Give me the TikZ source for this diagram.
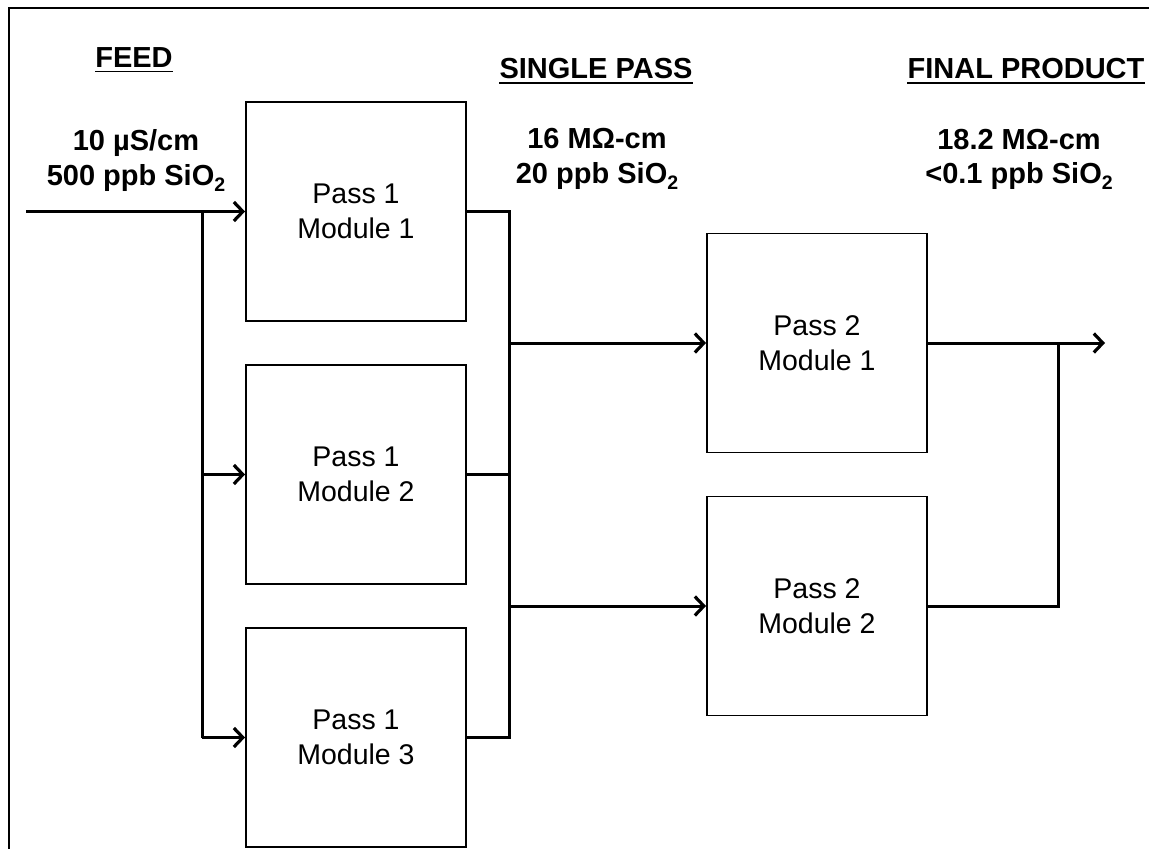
\documentclass[tikz,border=0pt]{standalone}
\usepackage{fontspec}
\setmainfont{Liberation Sans}
\usetikzlibrary{arrows.meta}
\newcommand\subtwo{\raisebox{-6pt}{\fontsize{19.5}{19.5}\selectfont 2}}
\begin{document}
\begin{tikzpicture}[x=1pt,y=-1pt,
  frameline/.style={line width=2.6pt},
  modbox/.style={draw,line width=1.9pt,minimum width=220pt,minimum height=219pt,
    inner sep=0pt,align=center,font=\fontsize{28.5}{35}\selectfont},
  pipe/.style={line width=3pt},
  flow/.style={line width=3pt,-{Straight Barb[length=9pt,width=19pt,line width=3.2pt]}},
  head/.style={inner sep=0pt,anchor=base,font=\fontsize{29}{35}\selectfont\bfseries},
  lbl/.style={inner sep=0pt,anchor=base,font=\fontsize{29}{35}\selectfont\bfseries},
  uline/.style={line width=1.8pt}]
\useasboundingbox (0,0) rectangle (1149,849);
% frame
\coordinate (fbl) at (9,849);
\coordinate (ftl) at (9,8);
\coordinate (ftr) at (1149,8);
\draw[frameline] (fbl) -- (ftl) -- (ftr);

% headings
\node[head] (feed) at (134,67) {FEED};
\node[head] (single) at (596,78) {SINGLE PASS};
\node[head] (final) at (1026,78) {FINAL PRODUCT};
\draw[uline] ([yshift=-4.5pt]feed.base west) -- ([yshift=-4.5pt]feed.base east);
\draw[uline] ([yshift=-5pt]single.base west) -- ([yshift=-5pt]single.base east);
\draw[uline] ([yshift=-5pt]final.base west) -- ([yshift=-5pt]final.base east);

% stream labels
\node[lbl] (f1) at (136,150) {10 µS/cm};
\node[lbl] (f2) at (136,185) {500 ppb SiO\subtwo};
\node[lbl] (s1) at (597,148) {16 MΩ-cm};
\node[lbl] (s2) at (597,183) {20 ppb SiO\subtwo};
\node[lbl] (p1) at (1019,149) {18.2 MΩ-cm};
\node[lbl] (p2) at (1019,183) {<0.1 ppb SiO\subtwo};

% modules
\node[modbox] (m11) at (356,211.5) {Pass 1\\Module 1};
\node[modbox] (m12) at (356,474.5) {Pass 1\\Module 2};
\node[modbox] (m13) at (356,737.5) {Pass 1\\Module 3};
\node[modbox] (m21) at (817,343) {Pass 2\\Module 1};
\node[modbox] (m22) at (817,606) {Pass 2\\Module 2};

% feed distribution
\coordinate (fin) at (26,211.5);
\coordinate (br) at (202,211.5);
\draw[flow] (fin) -- (m11.west);
\draw[pipe] (br) -- (br |- m13.west);
\draw[flow] (br |- m12.west) -- (m12.west);
\draw[flow] (br |- m13.west) -- (m13.west);

% pass 1 collector
\coordinate (colx) at (509,0);
\draw[pipe] (m11.east) -- (m11.east -| colx) -- (m13.east -| colx) -- (m13.east);
\draw[pipe] (m12.east) -- (m12.east -| colx);
\draw[flow] (m21.west -| colx) -- (m21.west);
\draw[flow] (m22.west -| colx) -- (m22.west);

% product
\coordinate (pout) at (1105,343);
\coordinate (pj) at (1058,343);
\draw[flow] (m21.east) -- (pout);
\draw[pipe] (m22.east) -| (pj);
\end{tikzpicture}
\end{document}
